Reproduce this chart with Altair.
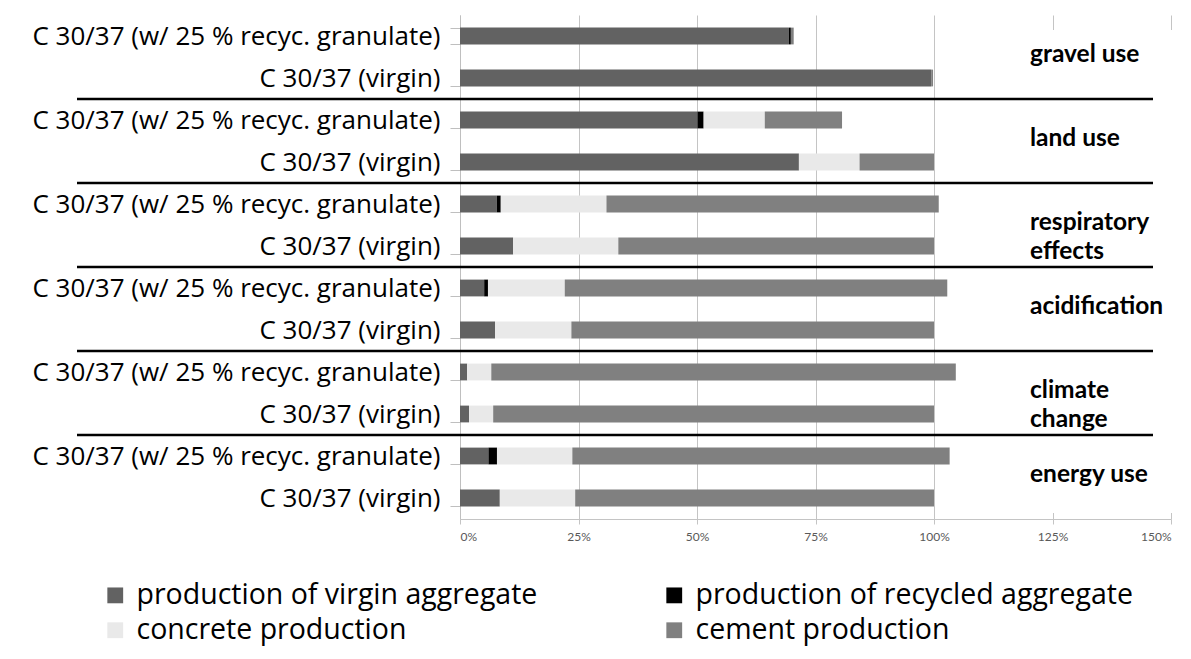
import altair as alt
import pandas as pd

# ---------------- data ----------------
groups = ["gravel use", "land use", "respiratory effects", "acidification",
          "climate change", "energy use"]
group_text = ["gravel use", "land use", "respiratory\neffects", "acidification",
              "climate\nchange", "energy use"]
variants = ["C 30/37 (w/ 25 % recyc. granulate)", "C 30/37 (virgin)"]
stages = ["production of virgin aggregate", "production of recycled aggregate",
          "concrete production", "cement production"]
stage_colors = ["#626262", "#000000", "#e9e9e9", "#808080"]

# one value per bar, top to bottom (recycled, virgin for each group)
virgin_agg   = [69.4, 99.4, 50.1, 71.5, 7.8, 11.2, 5.1, 7.4, 1.5, 1.9, 6.0, 8.4]
recycled_agg = [0.4, 0.0, 1.3, 0.0, 0.8, 0.0, 0.8, 0.0, 0.0, 0.0, 1.8, 0.0]
concrete     = [0.0, 0.0, 12.9, 12.8, 22.3, 22.2, 16.2, 16.1, 5.1, 5.1, 15.9, 15.9]
cement       = [0.6, 0.4, 16.3, 15.7, 70.1, 66.6, 80.7, 76.5, 98.0, 93.0, 79.6, 75.7]

x_ticks = [0, 25, 50, 75, 100, 125, 150]

# ---------------- tables ----------------
row_keys = [f"{g}|{v}" for g in groups for v in variants]
series = [virgin_agg, recycled_agg, concrete, cement]
recs = []
for i, key in enumerate(row_keys):
    for j, st in enumerate(stages):
        val = series[j][i]
        if val > 0:
            recs.append({"row": key, "stage": st, "value": val, "order": j})
bars_df = pd.DataFrame(recs)

sep_df = pd.DataFrame({"row": [f"{g}|{variants[1]}" for g in groups[:-1]]})
lab_df = pd.DataFrame({"row": [f"{g}|{variants[0]}" for g in groups],
                       "txt": group_text})

W, H = 711, 504
FONT = "Open Sans"

y_enc = alt.Y("row:N", sort=row_keys,
              scale=alt.Scale(paddingInner=0.6, paddingOuter=0.3),
              axis=alt.Axis(title=None,
                            labelExpr="split(datum.label, '|')[1]",
                            tickBand="extent", tickSize=10,
                            tickColor="#bfbfbf", domainColor="#bfbfbf",
                            labelFont=FONT, labelFontSize=26, labelColor="#000000",
                            labelPadding=10, labelLimit=600, grid=False))

x_scale = alt.Scale(domain=[0, 150], nice=False, zero=True)

bars = alt.Chart(bars_df).mark_bar().encode(
    x=alt.X("value:Q", stack="zero", scale=x_scale,
            axis=alt.Axis(title=None, values=x_ticks,
                          labelExpr="datum.value + '%'",
                          grid=True, gridColor="#c4c4c4", gridWidth=1,
                          domainColor="#c4c4c4", tickColor="#c4c4c4",
                          tickSize=5, labelFont="Lato", labelFontSize=12,
                          labelColor="#595959", labelPadding=7)),
    y=y_enc,
    color=alt.Color("stage:N",
                    scale=alt.Scale(domain=stages, range=stage_colors),
                    legend=alt.Legend(orient="none", legendX=-359, legendY=566,
                                      columns=2, direction="horizontal",
                                      title=None, symbolType="square",
                                      symbolSize=250, symbolStrokeWidth=0,
                                      labelFont=FONT, labelFontSize=28.5,
                                      labelColor="#000000", labelLimit=700,
                                      labelOffset=7, columnPadding=122,
                                      rowPadding=6, padding=0)),
    order=alt.Order("order:Q"),
)

cover = alt.Chart(pd.DataFrame({"a": [0]})).mark_rect(color="white").encode(
    x=alt.datum(108), x2=alt.value(W + 20),
    y=alt.value(15), y2=alt.value(498),
)

seps = alt.Chart(sep_df).mark_rule(color="black", strokeWidth=2.5, yOffset=21).encode(
    y=alt.Y("row:N", sort=row_keys),
    x=alt.value(-383), x2=alt.value(693),
)

labels = alt.Chart(lab_df).mark_text(
    align="left", baseline="middle", font="Lato", fontSize=24.5,
    fontWeight="bold", lineBreak="\n", lineHeight=29, yOffset=19,
    color="#000000",
).encode(
    y=alt.Y("row:N", sort=row_keys),
    x=alt.value(570),
    text="txt:N",
)

chart = alt.layer(bars, cover, seps, labels).properties(
    width=W, height=H,
    autosize=alt.AutoSizeParams(type="none"),
    padding={"left": 452, "top": 7, "right": 10, "bottom": 130},
).configure_view(stroke=None)

chart.save("out.html", embed_options={"renderer": "svg", "actions": False})
